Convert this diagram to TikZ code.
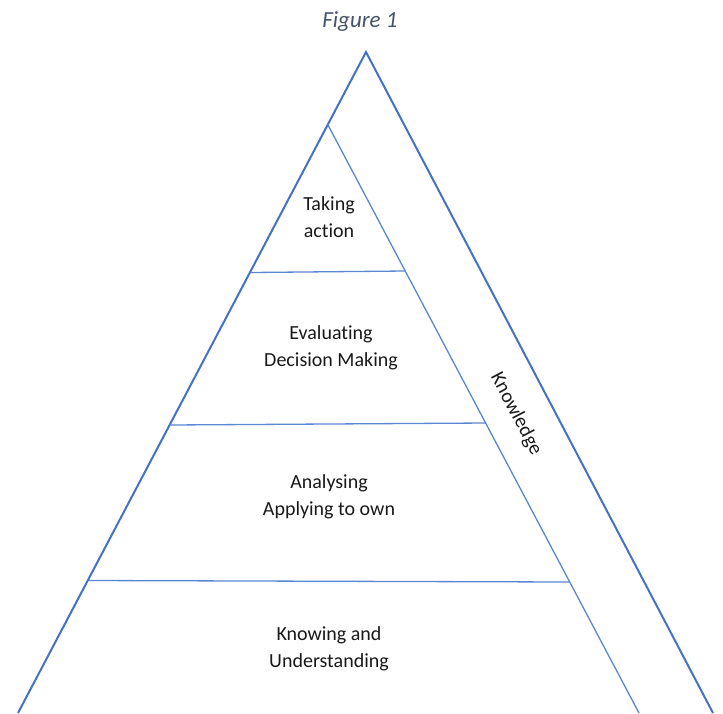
\documentclass[tikz,border=0pt]{standalone}
\usepackage{fontspec}
\setmainfont{Carlito}[Ligatures={NoCommon}]
\definecolor{edge}{HTML}{4472C4}
\definecolor{inner}{HTML}{5A86D2}
\definecolor{titlec}{HTML}{44546A}
\begin{document}
\begin{tikzpicture}[x=1pt,y=-1pt,
  outerline/.style={draw=edge,line width=2pt,line join=miter},
  innerline/.style={draw=inner,line width=1.3pt},
  lbl/.style={align=center,font=\fontsize{20}{27}\selectfont,text=black!90,inner sep=0pt}]
\useasboundingbox (0,0) rectangle (723,713);
% outer triangle
\coordinate (A) at (366,52);
\coordinate (BL) at (18,713);
\coordinate (BR) at (713,713);
% inner apex and right side
\coordinate (I) at (328,125);
\coordinate (IB) at (639,713);
% horizontal levels
\coordinate (L1) at (251,272.5);
\coordinate (R1) at (405,271);
\coordinate (L2) at (170,425);
\coordinate (R2) at (486,423);
\coordinate (L3) at (89,580.5);
\coordinate (R3) at (569,582);
\clip (0,0) rectangle (723,713);
\draw[outerline] (BL) -- (A) -- (BR);
\draw[innerline] (I) -- (IB);
\draw[innerline] (L1) -- (R1);
\draw[innerline] (L2) -- (R2);
\draw[innerline] (L3) -- (R3);
\node[font=\fontsize{23}{27}\selectfont\itshape,text=titlec] (title) at (360,22) {Figure 1};
\node[lbl] (t1) at (329,217.5) {Taking\\action};
\node[lbl] (t2) at (331,347.5) {Evaluating\\Decision Making};
\node[lbl] (t3) at (329,496.5) {Analysing\\Applying to own};
\node[lbl] (t4) at (329,648.5) {Knowing and\\Understanding};
\node[lbl,rotate=-62.3] (k) at (516,414) {Knowledge};
\end{tikzpicture}
\end{document}
